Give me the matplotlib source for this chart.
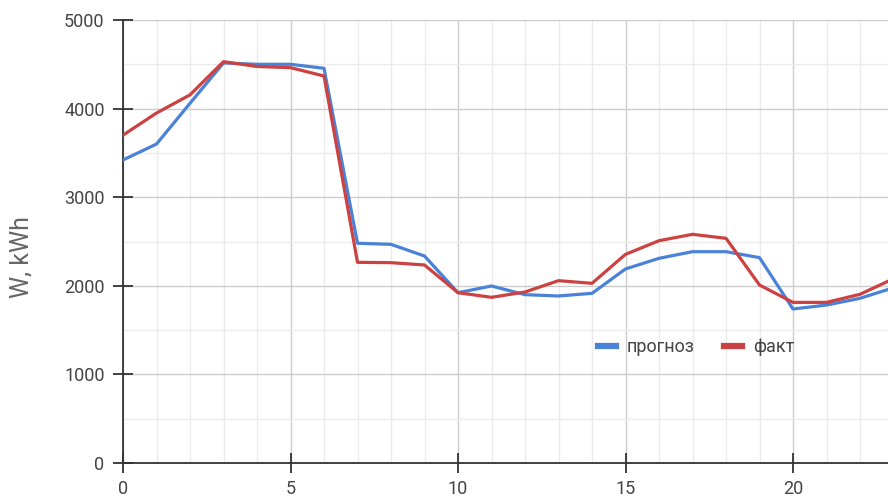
import matplotlib
matplotlib.use('Agg')
from matplotlib import pyplot as plt
from matplotlib.ticker import MultipleLocator

# hours and energy values
hours = list(range(24))
forecast = [3420, 3600, 4060, 4515, 4500, 4500, 4455, 2480, 2468, 2336,
            1922, 1998, 1900, 1885, 1915, 2190, 2310, 2385, 2385, 2318,
            1738, 1783, 1859, 1978]
actual = [3700, 3950, 4155, 4530, 4475, 4462, 4368, 2265, 2261, 2235,
          1922, 1870, 1930, 2058, 2028, 2355, 2509, 2581, 2536, 2009,
          1813, 1813, 1904, 2080]

plt.rcParams['font.family'] = ['Roboto', 'DejaVu Sans']

fig = plt.figure(figsize=(8.88, 4.99), dpi=100)
ax = fig.add_axes([123 / 888, 36 / 499, 770.5 / 888, 443 / 499])

ax.plot(hours, forecast, color='#4a82d8', lw=2.3, label='прогноз', zorder=3)
ax.plot(hours, actual, color='#cc4141', lw=2.3, label='факт', zorder=3)

ax.set_xlim(0, 23)
ax.set_ylim(0, 5000)
ax.xaxis.set_major_locator(MultipleLocator(5))
ax.xaxis.set_minor_locator(MultipleLocator(1))
ax.yaxis.set_major_locator(MultipleLocator(1000))
ax.yaxis.set_minor_locator(MultipleLocator(500))

ax.grid(which='major', color='#cccccc', lw=1, zorder=0)
ax.grid(which='minor', color='#ebebeb', lw=1, zorder=0)
ax.set_axisbelow(True)

for s in ['top', 'right']:
    ax.spines[s].set_visible(False)
for s in ['left', 'bottom']:
    ax.spines[s].set_color('#333333')
    ax.spines[s].set_linewidth(1.3)

ax.tick_params(which='major', direction='inout', length=14.5, width=1.3, color='#333333',
               labelsize=13, labelcolor='#444444')
ax.tick_params(axis='y', which='major', pad=6)
ax.tick_params(axis='x', which='major', pad=5)
ax.tick_params(which='minor', length=0)

# y axis title, placed in figure pixels
fig.text(21 / 888, 1 - 257 / 499, 'W, kWh', rotation=90, ha='center', va='center',
         fontsize=18, color='#666666')

leg = fig.legend(loc='center', bbox_to_anchor=(696 / 888, 1 - 347 / 499), frameon=False,
                 ncol=2, fontsize=13, handlelength=1.0, handletextpad=0.6,
                 columnspacing=1.6, labelcolor='#444444')
for line in leg.get_lines():
    line.set_linewidth(4.5)

fig.savefig('out.png', dpi=100)
